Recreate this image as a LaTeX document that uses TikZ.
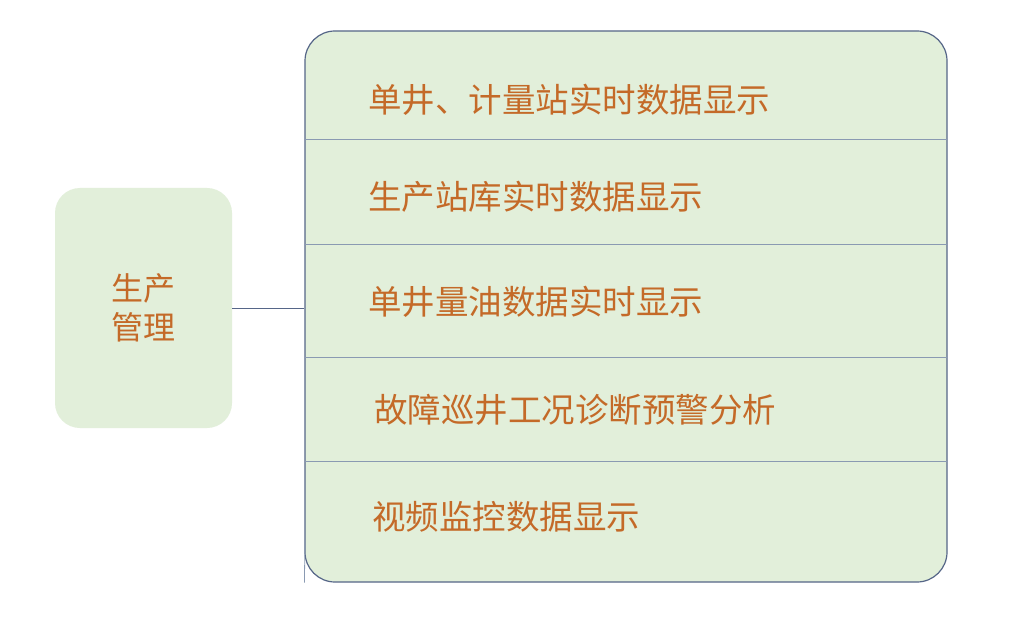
\documentclass[tikz,border=0pt]{standalone}
\usepackage{fontspec}
\setmainfont{Noto Sans CJK SC}
\definecolor{boxfill}{HTML}{E2EFDA}
\definecolor{boxline}{HTML}{566688}
\definecolor{sepline}{HTML}{8A9AB2}
\definecolor{txt}{HTML}{C46A28}
\tikzset{
  itemtext/.style={anchor=west, inner sep=0pt, text=txt, font=\fontsize{33.5}{38}\selectfont},
  leftbox/.style={fill=boxfill, rounded corners=25pt, minimum width=177pt, minimum height=240pt, inner sep=0pt, text=txt, align=center, font=\fontsize{32}{39}\selectfont},
  rightbox/.style={fill=boxfill, draw=boxline, line width=1.2pt, rounded corners=30pt, minimum width=642pt, minimum height=551pt, inner sep=0pt},
  sep/.style={draw=sepline, line width=1pt},
  conn/.style={draw=boxline, line width=0.8pt}
}
\begin{document}
\begin{tikzpicture}[x=1pt,y=-1pt]
\useasboundingbox (0,0) rectangle (1024,617);
\fill[white] (0,0) rectangle (1024,617);
\node[leftbox] (L) at (143.5,308) {生产\\管理};
\node[rightbox] (R) at (626,306.5) {};
\coordinate (s1) at (305,140);
\coordinate (s2) at (305,245);
\coordinate (s3) at (305,357);
\coordinate (s4) at (305,461);
\coordinate (e1) at (947,140);
\coordinate (e2) at (947,245);
\coordinate (e3) at (947,357);
\coordinate (e4) at (947,461);
\draw[sep] (s1) -- (e1);
\draw[sep] (s2) -- (e2);
\draw[sep] (s3) -- (e3);
\draw[sep] (s4) -- (e4);
\coordinate (vt) at (305,540);
\draw[draw=sepline, line width=0.8pt] (R.south west) -- (vt);
\draw[conn] (L.east) -- (L.east -| R.west);
\node[itemtext] (t1) at (368,100) {单井、计量站实时数据显示};
\node[itemtext] (t2) at (368,197) {生产站库实时数据显示};
\node[itemtext] (t3) at (368,302) {单井量油数据实时显示};
\node[itemtext] (t4) at (374,410) {故障巡井工况诊断预警分析};
\node[itemtext] (t5) at (372,517) {视频监控数据显示};
\end{tikzpicture}
\end{document}
